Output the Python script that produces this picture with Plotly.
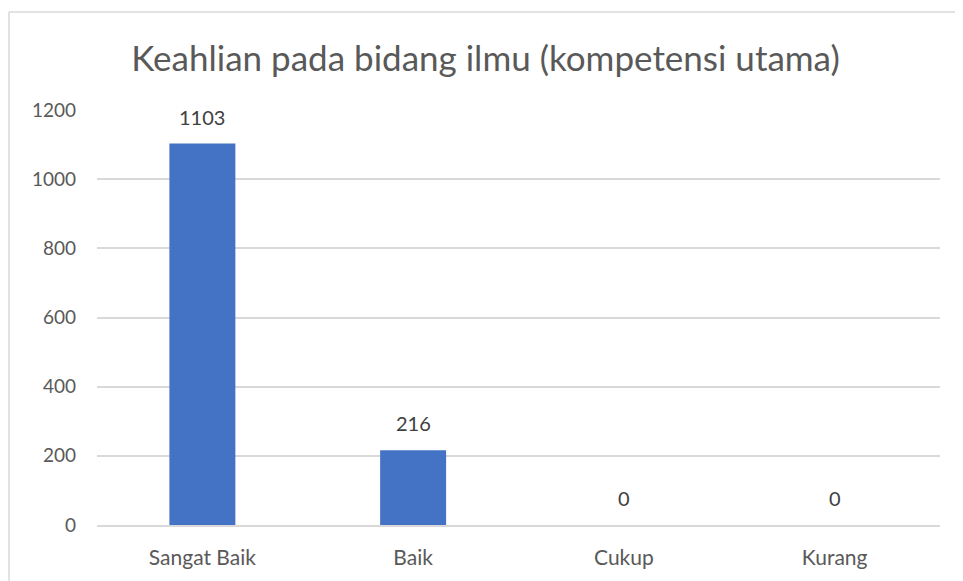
import plotly.graph_objects as go

categories = ["Sangat Baik", "Baik", "Cukup", "Kurang"]
values = [1103, 216, 0, 0]
y_ticks = [0, 200, 400, 600, 800, 1000, 1200]

FONT = "Lato"
TXT = "#595959"

W, H = 955, 573  # page body has 8px default margin
L, R, T, B = 89, 23, 102, 56
PW, PH = W - L - R, H - T - B

fig = go.Figure(go.Bar(
    x=categories, y=values,
    marker=dict(color="#4472C4", line=dict(width=0)),
    width=0.313,
    cliponaxis=False,
))

for c, v in zip(categories, values):
    fig.add_annotation(x=c, y=v, text=str(v), showarrow=False,
                       yanchor="bottom", yshift=13,
                       font=dict(family=FONT, size=20, color="#404040"))

fig.update_layout(
    width=W, height=H,
    margin=dict(l=L, r=R, t=T, b=B),
    paper_bgcolor="white", plot_bgcolor="white",
    showlegend=False,
    title=dict(text="Keahlian pada bidang ilmu (kompetensi utama)",
               x=0.5, xanchor="center", y=1 - 51 / H, yanchor="middle",
               font=dict(family=FONT, size=35, color=TXT)),
    xaxis=dict(showgrid=False, showline=True, linecolor="#D9D9D9", linewidth=1.5,
               tickfont=dict(family=FONT, size=21, color=TXT), ticks="",
               ticklabelstandoff=13),
    yaxis=dict(range=[0, 1200], tickvals=y_ticks, showgrid=True, gridcolor="#D9D9D9",
               gridwidth=1.5, zeroline=False, showline=False,
               tickfont=dict(family=FONT, size=19, color=TXT), ticks="",
               ticklabelstandoff=20),
    shapes=[
        dict(type="line", xref="paper", yref="paper", x0=(1 - L) / PW, x1=(1 - L) / PW,
             y0=-0.3, y1=1 + (T - 4) / PH, line=dict(color="#D9D9D9", width=1.5)),
        dict(type="line", xref="paper", yref="paper", x0=(1 - L) / PW, x1=1.2,
             y0=1 + (T - 4) / PH, y1=1 + (T - 4) / PH, line=dict(color="#D9D9D9", width=1.5)),
    ],
)

fig.write_html("out.html")
